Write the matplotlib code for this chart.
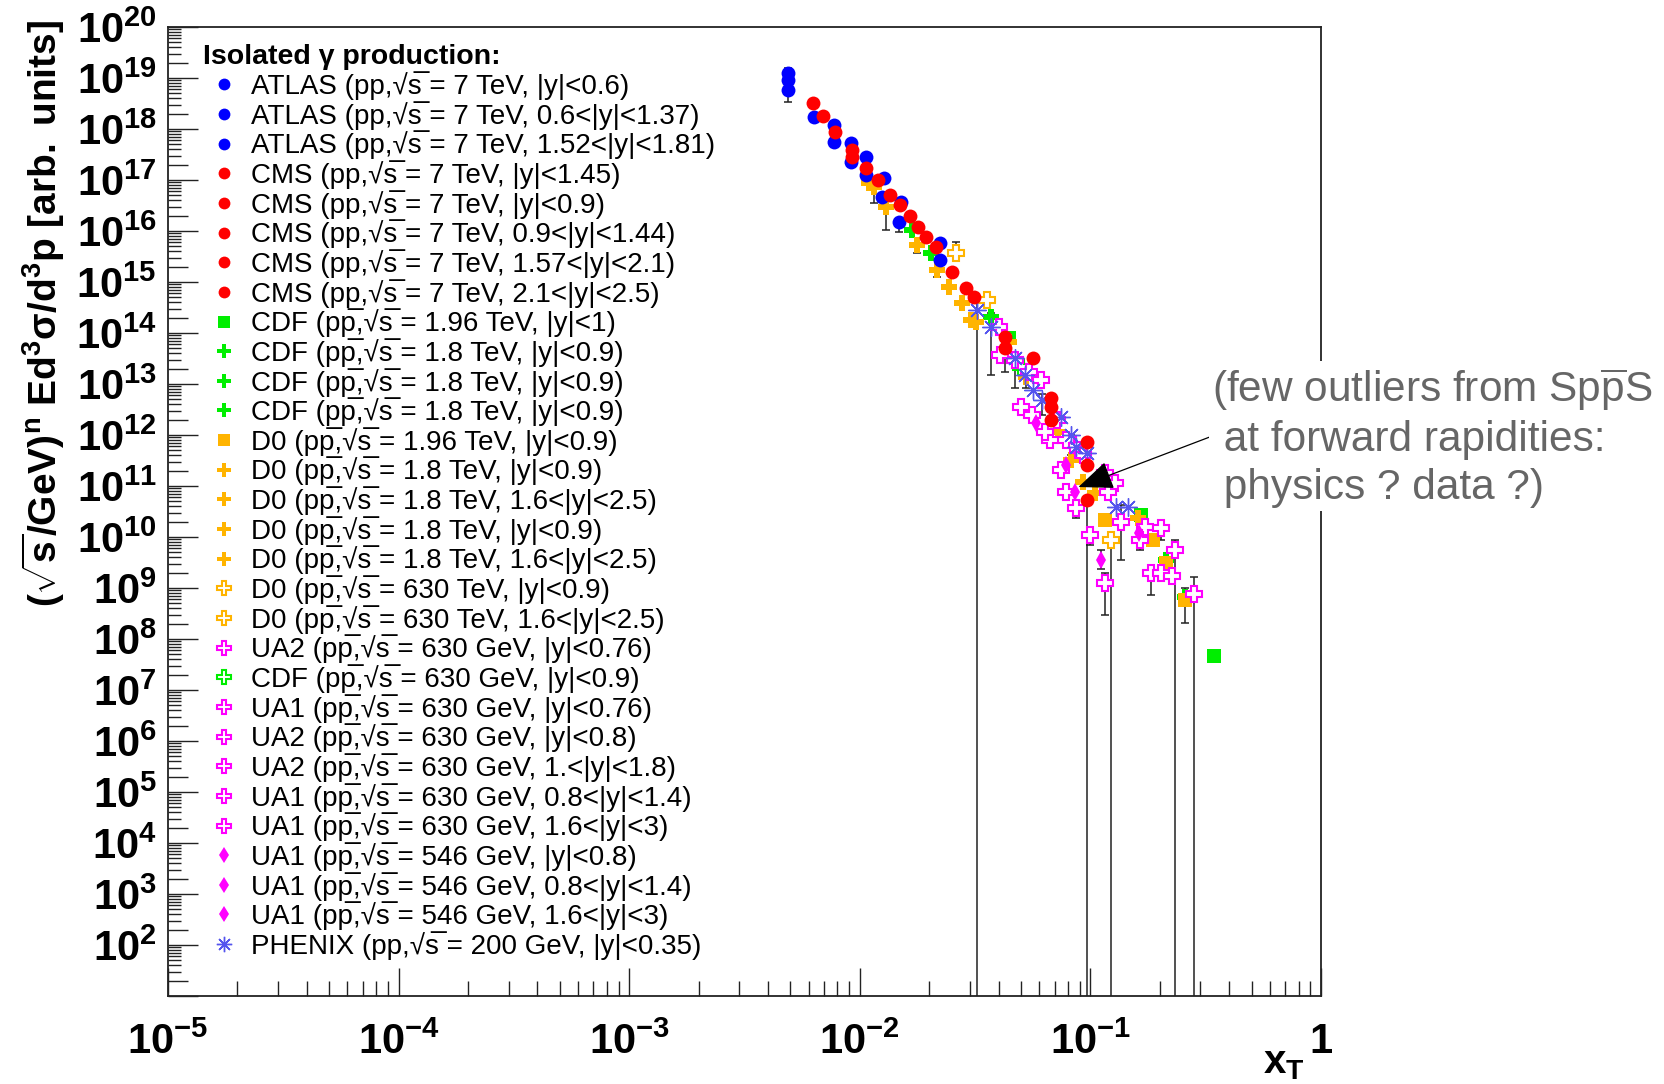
import numpy as np
import matplotlib
matplotlib.use('Agg')
import matplotlib.pyplot as plt
from matplotlib.ticker import FixedLocator, FuncFormatter, NullFormatter, LogLocator, NullLocator
from matplotlib.font_manager import FontProperties

plt.rcParams['font.family'] = ['Liberation Sans', 'DejaVu Sans']
plt.rcParams['mathtext.fontset'] = 'custom'
plt.rcParams['mathtext.rm'] = 'Liberation Sans'
plt.rcParams['mathtext.it'] = 'Liberation Sans:italic'
plt.rcParams['mathtext.bf'] = 'Liberation Sans:bold'

PP = "pp"
PPB = "pp\u0305"
SQ = "√s\u0305"

# ---------------- data ----------------
ATLAS_LABELS = [f"ATLAS ({PP},{SQ} = 7 TeV, |y|<0.6)",
                f"ATLAS ({PP},{SQ} = 7 TeV, 0.6<|y|<1.37)",
                f"ATLAS ({PP},{SQ} = 7 TeV, 1.52<|y|<1.81)"]
ATLAS_X = [0.00488, 0.00771, 0.00914, 0.01062, 0.01271, 0.01503, 0.02218,
           0.00488, 0.00632, 0.00771, 0.00914, 0.01062,
           0.00488, 0.01245, 0.01476, 0.02218]
ATLAS_Y = [1.25e19, 1.20e18, 5.31e17, 2.82e17, 1.09e17, 3.70e16, 5.82e15,
           5.82e18, 1.72e18, 5.56e17, 2.25e17, 1.25e17,
           9.14e18, 4.64e16, 1.50e16, 2.70e15]
ATLAS_SET = [0, 0, 0, 0, 0, 0, 0, 1, 1, 1, 1, 1, 2, 2, 2, 2]

CMS_LABELS = [f"CMS ({PP},{SQ} = 7 TeV, |y|<1.45)",
              f"CMS ({PP},{SQ} = 7 TeV, |y|<0.9)",
              f"CMS ({PP},{SQ} = 7 TeV, 0.9<|y|<1.44)",
              f"CMS ({PP},{SQ} = 7 TeV, 1.57<|y|<2.1)",
              f"CMS ({PP},{SQ} = 7 TeV, 2.1<|y|<2.5)"]
CMS_X = [0.00627, 0.00692, 0.00780, 0.00923, 0.00923, 0.01062, 0.01197, 0.01349,
         0.01489, 0.01643, 0.01782, 0.01932, 0.02133,
         0.0250, 0.0288, 0.0312, 0.0425, 0.0561, 0.0678, 0.0962,
         0.0425, 0.0678, 0.0962,
         0.0678,
         0.0962]
CMS_Y = [3.24e18, 1.80e18, 8.73e17, 3.87e17, 2.82e17, 1.72e17, 1.0e17, 5.08e16,
         3.24e16, 1.97e16, 1.20e16, 7.63e15, 4.86e15,
         1.57e15, 7.63e14, 5.08e14, 8.35e13, 3.24e13, 5.31e12, 7.29e11,
         5.08e13, 3.54e12, 2.58e11,
         1.97e12,
         5.31e10]
CMS_SET = [0] * 13 + [1] * 7 + [2] * 3 + [3] + [4]

CDF_SQ_LABEL = f"CDF ({PPB},{SQ} = 1.96 TeV, |y|<1)"
CDF_SQ_X = [0.0442, 0.1664, 0.344]
CDF_SQ_Y = [7.98e13, 2.70e10, 4.64e7]

CDF_PL_LABELS = [f"CDF ({PPB},{SQ} = 1.8 TeV, |y|<0.9)"] * 3
CDF_PL_X = [0.01679, 0.0203, 0.0372, 0.2133, 0.2576]
CDF_PL_Y = [1.05e16, 3.70e15, 2.06e14, 3.54e9, 6.67e8]
CDF_PL_SET = [0, 0, 1, 1, 2]

D0_SQ_LABEL = f"D0 ({PPB},{SQ} = 1.96 TeV, |y|<0.9)"
D0_SQ_X = [0.1161, 0.1875, 0.2133, 0.2576]
D0_SQ_Y = [2.15e10, 8.73e9, 3.09e9, 5.82e8]

D0_PL_LABELS = [f"D0 ({PPB},{SQ} = 1.8 TeV, |y|<0.9)",
                f"D0 ({PPB},{SQ} = 1.8 TeV, 1.6<|y|<2.5)",
                f"D0 ({PPB},{SQ} = 1.8 TeV, |y|<0.9)",
                f"D0 ({PPB},{SQ} = 1.8 TeV, 1.6<|y|<2.5)"]
D0_PL_X = [0.01094, 0.01298, 0.01766, 0.02153, 0.0277, 0.0318, 0.0442, 0.0524,
           0.01151, 0.0243, 0.0305,
           0.0726, 0.0828, 0.0933,
           0.1052, 0.1614]
D0_PL_Y = [8.73e16, 2.96e16, 5.31e15, 1.72e15, 3.87e14, 1.64e14, 6.67e13, 1.37e13,
           7.29e16, 7.98e14, 1.80e14,
           1.15e12, 3.24e11, 1.20e11,
           7.29e10, 2.36e10]
D0_PL_SET = [0] * 8 + [1] * 3 + [2] * 3 + [3] * 2

D0_OP_LABELS = [f"D0 ({PPB},{SQ} = 630 TeV, |y|<0.9)",
                f"D0 ({PPB},{SQ} = 630 TeV, 1.6<|y|<2.5)"]
D0_OP_X = [0.0261, 0.0355, 0.1233]
D0_OP_Y = [3.70e15, 4.44e14, 8.73e9]
D0_OP_SET = [0, 0, 1]

CDF_OP_LABEL = f"CDF ({PPB},{SQ} = 630 GeV, |y|<0.9)"
CDF_OP_X = [0.0502]
CDF_OP_Y = [2.2e13]

UA_OP_LABELS = [f"UA2 ({PPB},{SQ} = 630 GeV, |y|<0.76)",
                f"UA1 ({PPB},{SQ} = 630 GeV, |y|<0.76)",
                f"UA2 ({PPB},{SQ} = 630 GeV, |y|<0.8)",
                f"UA2 ({PPB},{SQ} = 630 GeV, 1.<|y|<1.8)",
                f"UA1 ({PPB},{SQ} = 630 GeV, 0.8<|y|<1.4)",
                f"UA1 ({PPB},{SQ} = 630 GeV, 1.6<|y|<3)"]
UA_OP_X = [0.0400, 0.0469, 0.0540, 0.0608, 0.0713, 0.0843, 0.0933, 0.1161, 0.1282, 0.1730,
           0.0407, 0.0556, 0.0780, 0.1197, 0.1361, 0.2028,
           0.0502, 0.0671, 0.1644, 0.2333,
           0.0638, 0.0748, 0.0869, 0.1000,
           0.0787, 0.1837, 0.2028, 0.2818,
           0.1161, 0.2265]
UA_OP_Y = [1.31e14, 2.96e13, 1.72e13, 1.20e13, 1.97e12, 6.37e11, 4.06e11, 1.80e11, 1.15e11, 1.57e10,
           3.70e13, 2.47e12, 7.98e11, 7.63e10, 1.97e10, 1.50e10,
           3.54e12, 7.98e11, 8.73e9, 5.56e9,
           1.15e12, 2.06e11, 3.70e10, 1.09e10,
           7.63e10, 1.97e9, 1.97e9, 7.63e8,
           1.25e9, 1.72e9]
UA_OP_SET = [0] * 10 + [1] * 6 + [2] * 4 + [3] * 4 + [4] * 4 + [5] * 2

UA_DI_LABELS = [f"UA1 ({PPB},{SQ} = 546 GeV, |y|<0.8)",
                f"UA1 ({PPB},{SQ} = 546 GeV, 0.8<|y|<1.4)",
                f"UA1 ({PPB},{SQ} = 546 GeV, 1.6<|y|<3)"]
UA_DI_X = [0.0578, 0.0780, 0.0861, 0.1629, 0.1117]
UA_DI_Y = [1.72e12, 2.58e11, 7.63e10, 1.20e10, 3.54e9]
UA_DI_SET = [0, 0, 1, 1, 2]

PHENIX_LABEL = f"PHENIX ({PP},{SQ} = 200 GeV, |y|<0.35)"
PHENIX_X = [0.0321, 0.0372, 0.0473, 0.0518, 0.0566, 0.0614, 0.0748, 0.0828, 0.0869,
            0.0962, 0.1297, 0.1462]
PHENIX_Y = [2.83e14, 1.31e14, 3.24e13, 1.50e13, 7.63e12, 4.86e12, 2.25e12, 1.0e12, 5.82e11,
            4.44e11, 3.87e10, 3.87e10]

# error bars: centre, lower end, upper end (lower end 1 = below the frame)
ERR_X = [0.00488, 0.01151, 0.01298, 0.01476, 0.01766, 0.02153, 0.0261, 0.0321, 0.0372,
         0.0425, 0.0473, 0.0524, 0.0614, 0.0962, 0.1233, 0.2333, 0.2818, 0.1161,
         0.1837, 0.1000, 0.2028, 0.2576, 0.1117, 0.1361, 0.1644, 0.0869, 0.0828]
ERR_Y = [9.14e18, 7.29e16, 2.96e16, 1.50e16, 5.31e15, 1.72e15, 3.70e15, 2.83e14, 1.31e14,
         5.08e13, 3.24e13, 1.37e13, 4.86e12, 5.31e10, 8.73e9, 5.56e9, 7.63e8, 1.25e9,
         1.97e9, 1.09e10, 1.50e10, 5.82e8, 3.54e9, 1.97e10, 8.73e9, 3.70e10, 1.0e12]
ERR_LO = [3.38e18, 3.54e16, 1.05e16, 9.69e15, 3.70e15, 1.25e15, 2.70e15, 1.0, 1.50e13,
          1.72e13, 8.35e12, 8.35e12, 2.5e12, 1.0, 1.0, 1.0, 1.0, 2.96e8,
          7.29e8, 6.97e9, 8.73e9, 2.06e8, 2.36e9, 3.54e9, 5.5e9, 2.36e10, 4.0e11]
ERR_HI = [1.57e19, 7.29e16, 2.96e16, 1.50e16, 5.31e15, 1.72e15, 6.08e15, 3.87e14, 2.47e14,
          5.08e13, 3.24e13, 2.2e13, 6.5e12, 5.31e10, 1.2e10, 8.73e9, 1.64e9, 1.97e9,
          2.4e9, 1.50e10, 2.15e10, 1.0e9, 5.56e9, 4.24e10, 1.1e10, 3.70e10, 1.0e12]

X_TICKS = [1e-5, 1e-4, 1e-3, 1e-2, 1e-1, 1.0]
Y_TICKS = [10.0 ** k for k in range(1, 21)]

# ---------------- figure ----------------
W, H = 1665, 1084
fig = plt.figure(figsize=(W / 100, H / 100), dpi=100)
ax = fig.add_axes([168 / W, 1 - 996 / H, 1153 / W, 969 / H])
ax.set_xscale('log')
ax.set_yscale('log')
ax.set_xlim(1e-5, 1.0)
ax.set_ylim(1e1, 1e20)

BLUE, RED, GREEN, ORANGE, MAG, PHX = '#0000ff', '#ff0000', '#00ee00', '#ffb400', '#ff00ff', '#5555ee'

ax.errorbar(ERR_X, ERR_Y,
            yerr=[np.array(ERR_Y) - np.array(ERR_LO), np.array(ERR_HI) - np.array(ERR_Y)],
            fmt='none', ecolor='#222222', elinewidth=1.1, capsize=3, capthick=1.1, zorder=2)

handles = []


def draw(xs, ys, sets, labels, z, **st):
    xs, ys, sets = np.asarray(xs), np.asarray(ys), np.asarray(sets)
    out = []
    for i, lab in enumerate(labels):
        m = sets == i
        h, = ax.plot(xs[m], ys[m], ls='none', label=lab, zorder=z, **st)
        out.append(h)
    return out


circ = dict(marker='o', ms=10, mew=0)
handles += draw(ATLAS_X, ATLAS_Y, ATLAS_SET, ATLAS_LABELS, 7, color=BLUE, **circ)
handles += draw(CMS_X, CMS_Y, CMS_SET, CMS_LABELS, 8, color=RED, **circ)
handles += draw(CDF_SQ_X, CDF_SQ_Y, [0] * len(CDF_SQ_X), [CDF_SQ_LABEL], 3,
                color=GREEN, marker='s', ms=9.5, mew=0)
handles += draw(CDF_PL_X, CDF_PL_Y, CDF_PL_SET, CDF_PL_LABELS, 3,
                color=GREEN, marker='P', ms=11.5, mew=0)
handles += draw(D0_SQ_X, D0_SQ_Y, [0] * len(D0_SQ_X), [D0_SQ_LABEL], 4,
                color=ORANGE, marker='s', ms=9.5, mew=0)
handles += draw(D0_PL_X, D0_PL_Y, D0_PL_SET, D0_PL_LABELS, 4,
                color=ORANGE, marker='P', ms=11.5, mew=0)
handles += draw(D0_OP_X, D0_OP_Y, D0_OP_SET, D0_OP_LABELS, 4.5,
                marker='P', ms=11.5, mfc='white', mec=ORANGE, mew=1.5)
ua = draw(UA_OP_X, UA_OP_Y, UA_OP_SET, UA_OP_LABELS, 5,
          marker='P', ms=11.5, mfc='white', mec=MAG, mew=1.5)
cdfop = draw(CDF_OP_X, CDF_OP_Y, [0], [CDF_OP_LABEL], 4.8,
             marker='P', ms=11.5, mfc='white', mec=GREEN, mew=1.5)
handles += [ua[0]] + cdfop + ua[1:]
handles += draw(UA_DI_X, UA_DI_Y, UA_DI_SET, UA_DI_LABELS, 6,
                color=MAG, marker='d', ms=9, mew=0)
handles += draw(PHENIX_X, PHENIX_Y, [0] * len(PHENIX_X), [PHENIX_LABEL], 6,
                color=PHX, marker=(8, 2, 0), ms=13, mew=1.0)

# ---------------- ticks ----------------
ax.xaxis.set_major_locator(FixedLocator(X_TICKS))
ax.xaxis.set_minor_locator(LogLocator(base=10, subs=np.arange(2, 10), numticks=100))
ax.xaxis.set_minor_formatter(NullFormatter())
ax.yaxis.set_major_locator(FixedLocator(Y_TICKS))
ax.yaxis.set_minor_locator(LogLocator(base=10, subs=np.arange(3, 10), numticks=100))
ax.yaxis.set_minor_formatter(NullFormatter())


def xfmt(v, p):
    e = int(round(np.log10(v)))
    return r"$\mathbf{1}$" if e == 0 else r"$\mathbf{10^{%d}}$" % e


def yfmt(v, p):
    e = int(round(np.log10(v)))
    return "" if e == 1 else r"$\mathbf{10^{%d}}$" % e


ax.xaxis.set_major_formatter(FuncFormatter(xfmt))
ax.yaxis.set_major_formatter(FuncFormatter(yfmt))
ax.tick_params(axis='both', which='both', direction='in', top=False, right=False,
               width=1.0, color='#222222')
ax.tick_params(axis='x', which='major', length=20, pad=19, labelsize=30)
ax.tick_params(axis='x', which='minor', length=11)
ax.tick_params(axis='y', which='major', length=21.5, pad=8, labelsize=30)
ax.tick_params(axis='y', which='minor', length=9.5)

sec = ax.secondary_yaxis('left')
sec.set_yticks([2 * 10.0 ** k for k in range(1, 20)])
sec.yaxis.set_major_formatter(NullFormatter())
sec.yaxis.set_minor_locator(NullLocator())
sec.tick_params(axis='y', which='major', direction='in', length=14.5, width=1.0,
                color='#222222', labelleft=False)
sec.spines['left'].set_visible(False)

for s in ax.spines.values():
    s.set_linewidth(1.3)
    s.set_color('#222222')

# ---------------- labels ----------------
fig.text(43 / W, 1 - 313 / H,
         r"$\mathbf{(\sqrt{s}/GeV)^{n}\ Ed^{3}σ/d^{3}p\ [arb.\ units]}$",
         rotation=90, ha='center', va='center', fontsize=28)
ax.text(0.986, -0.069, r"$\mathbf{x_{T}}$", transform=ax.transAxes,
        ha='right', va='center', fontsize=29)

FS = 20
leg = ax.legend(handles=handles, loc='upper left', bbox_to_anchor=(0.0304, 0.982),
                frameon=False, prop=FontProperties(family=['Liberation Sans', 'DejaVu Sans'], size=FS),
                title="Isolated γ production:",
                title_fontproperties=FontProperties(family='Liberation Sans', weight='bold', size=20.5),
                borderpad=0, borderaxespad=0, handlelength=1.51, handletextpad=0.2,
                labelspacing=0.03, markerscale=0.85, numpoints=1)
leg._legend_box.align = "left"

# ---------------- annotation ----------------
fig.text(1212 / W, 1 - 437 / H,
         "(few outliers from Sp$\\overline{\\rm p}$S\n at forward rapidities:\n physics ? data ?)",
         ha='left', va='center', fontsize=30.5, color='#666666', linespacing=1.25,
         bbox=dict(facecolor='white', edgecolor='none', pad=2))
ax.annotate('', xy=(0.0887, 9.55e10), xycoords='data',
            xytext=(1215 / W, 1 - 435 / H), textcoords='figure fraction',
            arrowprops=dict(arrowstyle='-|>,head_length=1.1,head_width=0.45',
                            mutation_scale=20, lw=0.9, color='black',
                            shrinkA=0, shrinkB=0),
            annotation_clip=False, zorder=9)

fig.savefig('out.png', dpi=100)
